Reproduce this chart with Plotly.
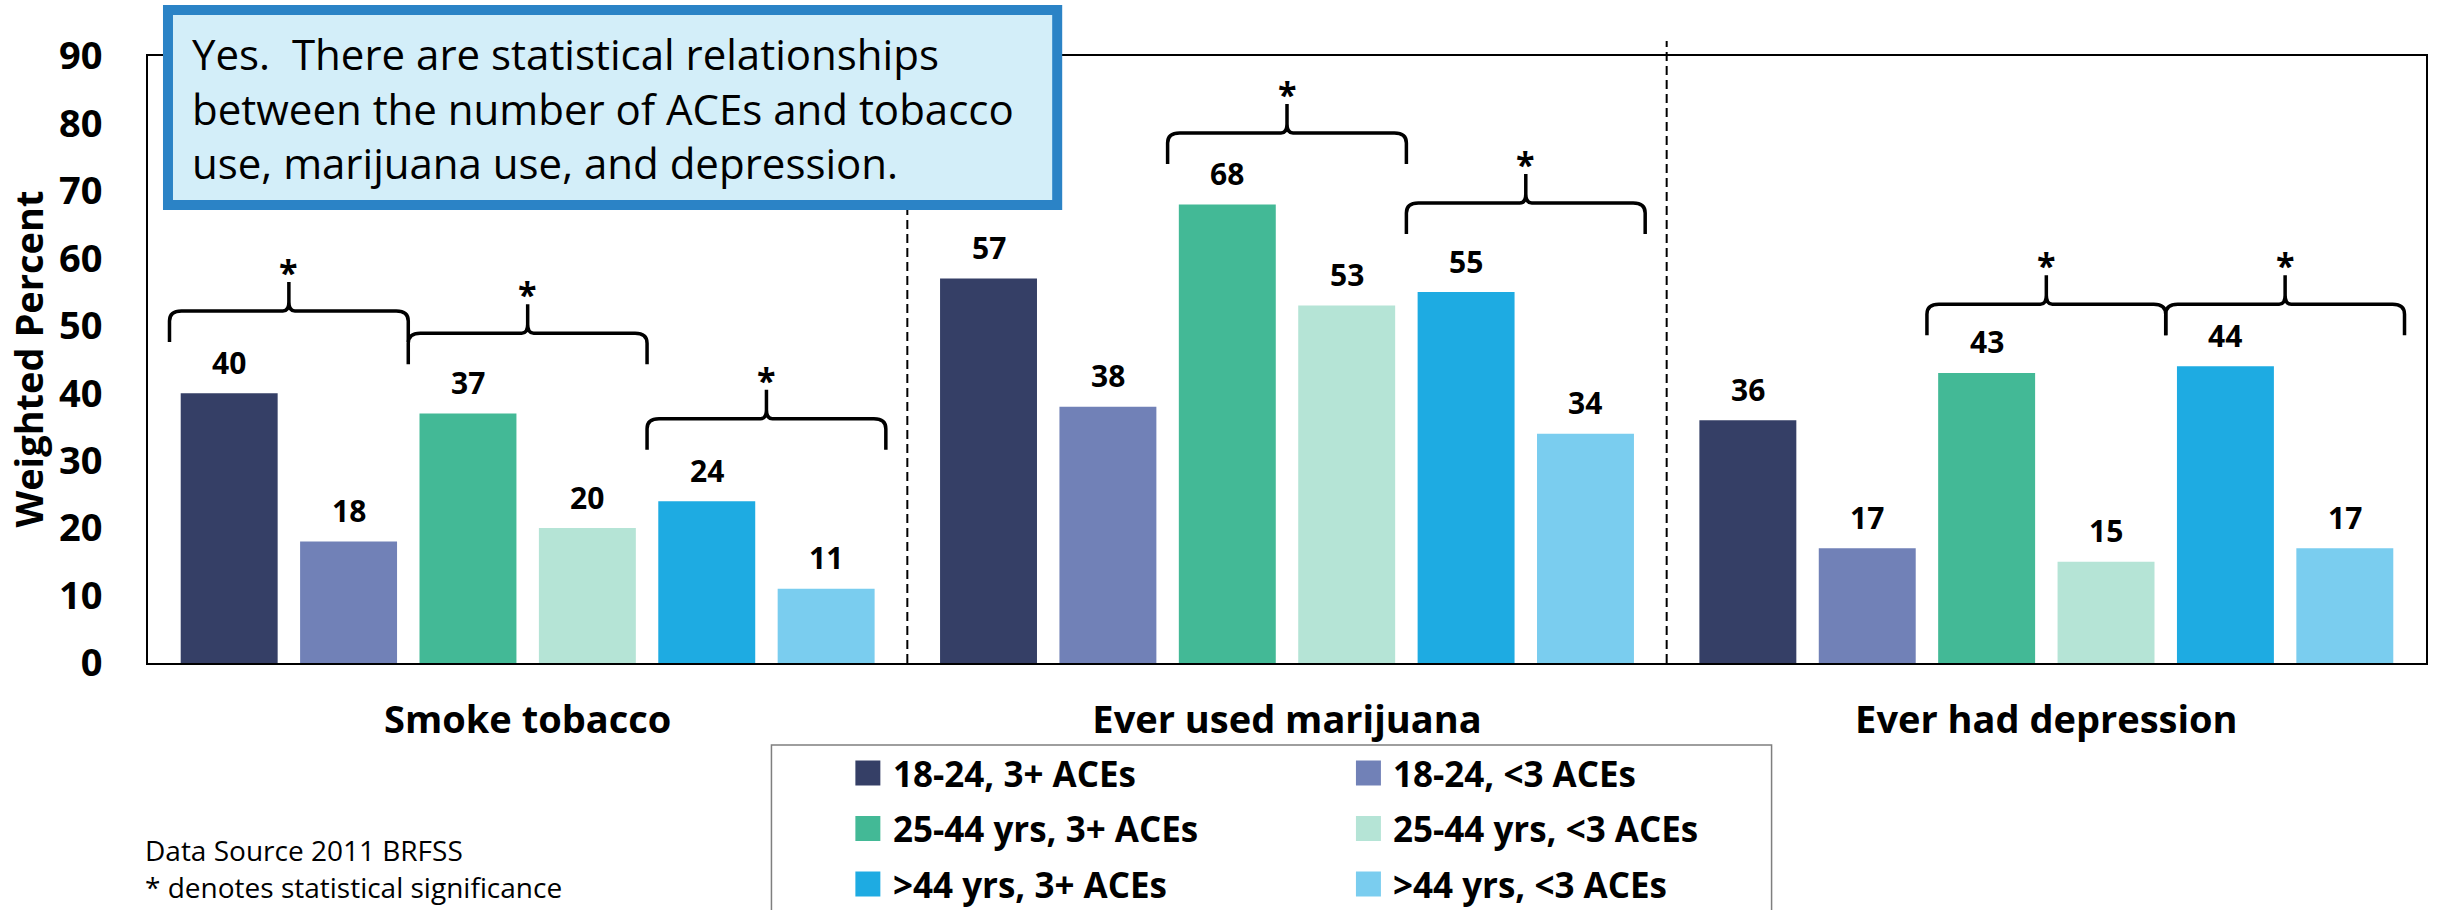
import plotly.graph_objects as go

# ---- data -------------------------------------------------------------
categories = ["Smoke tobacco", "Ever used marijuana", "Ever had depression"]
series_names = [
    "18-24, 3+ ACEs", "18-24, <3 ACEs",
    "25-44 yrs, 3+ ACEs", "25-44 yrs, <3 ACEs",
    ">44 yrs, 3+ ACEs", ">44 yrs, <3 ACEs",
]
age18_24_3plus = [40, 57, 36]
age18_24_under3 = [18, 38, 17]
age25_44_3plus = [37, 68, 43]
age25_44_under3 = [20, 53, 15]
age44plus_3plus = [24, 55, 44]
age44plus_under3 = [11, 34, 17]
series_values = [age18_24_3plus, age18_24_under3, age25_44_3plus,
                 age25_44_under3, age44plus_3plus, age44plus_under3]
series_colors = ["#353f66", "#7181b7", "#43b996", "#b5e4d6", "#1eabe2", "#7acdef"]

y_ticks = [0, 10, 20, 30, 40, 50, 60, 70, 80, 90]

# significance braces: category, bar pair inside the category, brace level
sig_category = [0, 0, 0, 1, 1, 2, 2]
sig_pair = [0, 1, 2, 1, 2, 1, 2]
sig_level = [52.2, 48.9, 36.2, 78.6, 68.2, 53.2, 53.2]

note_text = ("Yes.\u00a0 There are statistical relationships<br>"
             "between the number of ACEs and tobacco<br>"
             "use, marijuana use, and depression.")
source_lines = ["Data Source 2011 BRFSS", "* denotes statistical significance"]

# ---- page geometry ----------------------------------------------------
W, H = 2438, 910
ML, MR, MT, MB = 148, 10, 56, 247
PW, PH = W - ML - MR, H - MT - MB


def fx(px):
    return (px - ML) / PW


def fy(py):
    return (H - MB - py) / PH


BARGAP = 0.0566
BARGROUPGAP = 0.188
SLOT = (1 - BARGAP) / 6          # width of one bar slot in category units
UNIT_PX = PH / 90.0               # pixels per percent point
CAT_PX = PW / 3.0                 # pixels per category

FONT = "Open Sans"

fig = go.Figure()
cat_x = list(range(len(categories)))
for name, vals, col in zip(series_names, series_values, series_colors):
    fig.add_trace(go.Bar(x=cat_x, y=vals, name=name, marker_color=col,
                         marker_line_width=0, showlegend=False))

annotations = []
shapes = []

# value labels above each bar
for i, vals in enumerate(series_values):
    for c, v in enumerate(vals):
        annotations.append(dict(
            x=c + (i - 2.5) * SLOT, y=v, xref="x", yref="y",
            text=str(v), showarrow=False, yanchor="middle", yshift=31,
            font=dict(family=FONT, size=30, color="black", weight="bold")))

# dashed separators between categories
for sep in [0.5, 1.5]:
    shapes.append(dict(type="line", xref="x", yref="paper", x0=sep, x1=sep,
                       y0=0, y1=fy(41),
                       line=dict(color="black", width=2, dash="9px,5px"),
                       layer="above"))

# curly braces marking significant pairs
drop, spike = 31 / UNIT_PX, 29 / UNIT_PX
rx, ry = 12 / CAT_PX, 10 / UNIT_PX
sx, sy = 6 / CAT_PX, 9 / UNIT_PX
for c, p, h in zip(sig_category, sig_pair, sig_level):
    xc = c + (2 * p - 2) * SLOT
    x0, x1 = xc - SLOT, xc + SLOT
    path = (f"M{x0},{h - drop} L{x0},{h - ry} Q{x0},{h} {x0 + rx},{h} "
            f"L{xc - sx},{h} Q{xc},{h} {xc},{h + sy} L{xc},{h + spike} "
            f"M{x1},{h - drop} L{x1},{h - ry} Q{x1},{h} {x1 - rx},{h} "
            f"L{xc + sx},{h} Q{xc},{h} {xc},{h + sy}")
    shapes.append(dict(type="path", xref="x", yref="y", path=path,
                       line=dict(color="black", width=3.5), layer="above"))
    annotations.append(dict(
        x=xc, y=h + spike, xref="x", yref="y", text="*", showarrow=False,
        yanchor="middle", yshift=10,
        font=dict(family=FONT, size=34, color="black", weight="bold")))

# call-out box
shapes.append(dict(type="rect", xref="paper", yref="paper",
                   x0=fx(168), x1=fx(1058), y0=fy(205), y1=fy(10),
                   fillcolor="#d3eef9", line=dict(color="#2b83c6", width=10),
                   layer="above"))
annotations.append(dict(
    x=fx(190), y=fy(108), xref="paper", yref="paper", text=note_text,
    showarrow=False, xanchor="left", yanchor="middle", align="left",
    font=dict(family=FONT, size=42, color="black")))

# y-axis title
annotations.append(dict(
    x=fx(27), y=0.5, xref="paper", yref="paper", text="Weighted Percent",
    textangle=-90, showarrow=False, xanchor="center", yanchor="middle",
    font=dict(family=FONT, size=38, color="black", weight="bold")))

# legend block
shapes.append(dict(type="rect", xref="paper", yref="paper",
                   x0=fx(772), x1=fx(1773), y0=fy(925), y1=fy(745),
                   line=dict(color="#7f7f7f", width=1.5), fillcolor="rgba(0,0,0,0)"))
marker_left = [856, 1357]
text_left = [892, 1392]
row_mid = [773, 828.5, 884]
for i, (name, col) in enumerate(zip(series_names, series_colors)):
    r, k = divmod(i, 2)
    shapes.append(dict(type="rect", xref="paper", yref="paper",
                       x0=fx(marker_left[k]), x1=fx(marker_left[k] + 25),
                       y0=fy(row_mid[r] + 12.5), y1=fy(row_mid[r] - 12.5),
                       fillcolor=col, line=dict(width=0)))
    annotations.append(dict(
        x=fx(text_left[k]), y=fy(row_mid[r]), xref="paper", yref="paper",
        text=name, showarrow=False, xanchor="left", yanchor="middle",
        font=dict(family=FONT, size=35, color="black", weight="bold")))

# source notes
for j, line in enumerate(source_lines):
    annotations.append(dict(
        x=fx(143), y=fy(850 + 37 * j), xref="paper", yref="paper",
        text=line, showarrow=False, xanchor="left", yanchor="middle",
        font=dict(family=FONT, size=28, color="black")))

fig.update_layout(
    width=W, height=H, autosize=False,
    margin=dict(l=ML, r=MR, t=MT, b=MB),
    paper_bgcolor="white", plot_bgcolor="white",
    barmode="group", bargap=BARGAP, bargroupgap=BARGROUPGAP,
    annotations=annotations, shapes=shapes,
    xaxis=dict(range=[-0.5, 2.5], tickvals=cat_x, ticktext=categories,
               showgrid=False, zeroline=False, showline=True, mirror=True,
               linecolor="black", linewidth=2, ticks="",
               ticklabelstandoff=22,
               tickfont=dict(family=FONT, size=38, color="black", weight="bold")),
    yaxis=dict(range=[0, 90], tickvals=y_ticks, showgrid=False, zeroline=False,
               showline=True, mirror=True, linecolor="black", linewidth=2,
               ticks="", ticklabelstandoff=36,
               tickfont=dict(family=FONT, size=38, color="black", weight="bold")),
)

fig.write_html("out.html")
